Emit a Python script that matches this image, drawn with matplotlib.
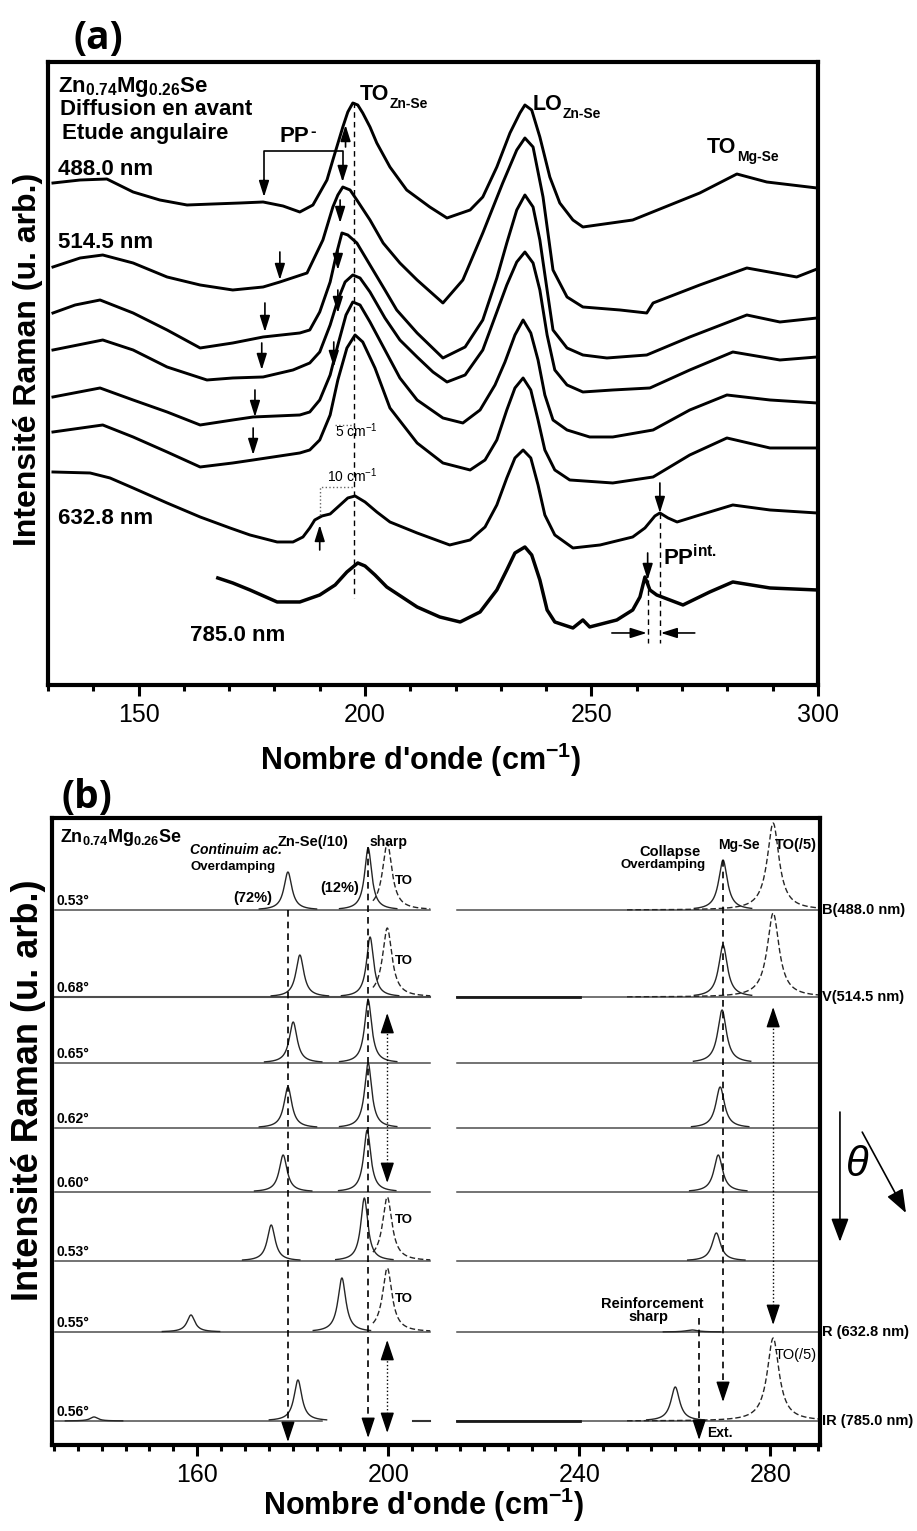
import matplotlib
matplotlib.use("Agg")
import matplotlib.pyplot as plt
from matplotlib.ticker import MultipleLocator
import numpy as np

plt.rcParams['font.family'] = ['Liberation Sans', 'DejaVu Sans']
plt.rcParams['mathtext.default'] = 'regular'

# ---------------- (a) spectres mesurés : nombre d'onde (cm-1) / intensité (u. arb.)
wn_488 = [131.1, 137.1, 143.0, 148.8, 154.7, 160.7, 166.4, 172.4, 177.5, 181.9, 185.6, 188.5, 191.6, 192.9, 195.1, 196.2,
          197.3, 198.4, 199.5, 201.1, 202.6, 205.5, 209.2, 214.3, 218.1, 223.2, 226.0, 229.1, 232.0, 234.2, 235.3, 236.8,
          238.6, 240.8, 243.0, 245.9, 248.1, 259.1, 273.9, 282.1, 288.7, 299.8]
int_488 = [502, 505, 506, 493, 485, 480, 481, 482, 483, 479, 473, 480, 505, 525, 558, 573,
           582, 580, 572, 558, 542, 518, 495, 478, 467, 475, 488, 518, 552, 572, 580, 575,
           548, 508, 482, 465, 458, 465, 492, 511, 503, 497]
wn_514 = [131.1, 137.1, 142.1, 148.8, 156.3, 163.6, 170.8, 177.5, 181.2, 187.2, 190.7, 192.9, 194.0, 195.1, 196.7, 198.2,
          201.1, 204.0, 207.7, 211.5, 217.2, 221.6, 226.0, 230.4, 233.5, 235.3, 237.1, 239.3, 241.5, 244.6, 248.1, 256.3,
          262.2, 263.6, 273.9, 284.3, 295.3, 299.8]
int_514 = [418, 427, 430, 422, 408, 400, 395, 398, 403, 412, 445, 478, 490, 498, 495, 485,
           465, 442, 422, 405, 382, 405, 452, 502, 535, 547, 538, 488, 415, 388, 378, 375,
           372, 382, 400, 417, 408, 416]
wn_a3 = [131.1, 136.0, 141.5, 148.8, 156.3, 163.6, 170.8, 177.5, 185.6, 187.8, 190.0, 192.3, 193.8, 194.9, 196.2, 198.2,
         201.1, 204.4, 207.0, 211.5, 217.2, 222.1, 226.0, 229.1, 231.3, 233.5, 235.3, 237.1, 238.6, 240.2, 241.5, 244.6,
         248.1, 253.4, 262.2, 271.7, 284.3, 291.6, 299.8]
int_a3 = [372, 380, 385, 372, 355, 337, 342, 348, 352, 355, 373, 403, 433, 452, 450, 442,
          420, 395, 375, 352, 327, 338, 365, 407, 442, 475, 490, 478, 445, 395, 355, 337,
          330, 327, 330, 348, 370, 363, 367]
wn_a4 = [131.1, 142.1, 148.8, 156.3, 165.1, 170.8, 177.5, 184.1, 187.8, 190.0, 192.3, 194.0, 195.6, 197.3, 198.9, 201.1,
         204.4, 207.7, 211.5, 215.0, 218.1, 222.1, 226.0, 229.1, 231.3, 233.5, 235.3, 237.1, 238.6, 240.2, 241.9, 244.6,
         248.1, 254.7, 262.9, 271.7, 281.2, 291.6, 299.8]
int_a4 = [335, 345, 335, 318, 305, 307, 308, 315, 322, 333, 360, 385, 403, 410, 407, 393,
          367, 345, 328, 313, 303, 310, 335, 373, 400, 423, 433, 422, 395, 350, 315, 300,
          293, 295, 297, 315, 333, 325, 328]
wn_a5 = [131.1, 141.5, 148.8, 156.3, 163.6, 170.8, 175.3, 185.6, 187.8, 190.0, 192.3, 194.0, 195.8, 197.3, 198.9, 201.1,
         204.4, 207.7, 211.5, 217.2, 221.6, 225.4, 228.7, 230.9, 233.1, 234.9, 236.6, 238.2, 239.7, 241.5, 244.6, 249.6,
         254.7, 263.6, 271.7, 279.9, 289.4, 299.8]
int_a5 = [288, 297, 285, 273, 260, 265, 268, 270, 273, 285, 310, 340, 370, 383, 380, 363,
          335, 307, 285, 267, 262, 275, 300, 323, 350, 365, 352, 325, 290, 265, 255, 248,
          248, 255, 275, 290, 285, 282]
wn_a6 = [131.1, 142.1, 148.8, 156.3, 163.6, 170.8, 175.3, 185.6, 187.8, 190.0, 192.3, 194.0, 196.0, 197.8, 199.5, 202.2,
         205.5, 211.5, 217.2, 223.2, 226.5, 229.1, 231.3, 233.1, 234.9, 236.6, 238.2, 239.7, 241.9, 245.2, 254.7, 263.6,
         271.7, 279.9, 289.4, 299.8]
int_a6 = [253, 260, 248, 233, 218, 222, 225, 232, 235, 245, 270, 305, 337, 350, 343, 317,
          277, 242, 222, 215, 225, 245, 275, 297, 307, 295, 265, 235, 215, 205, 202, 208,
          230, 247, 237, 237]
wn_633 = [131.1, 139.3, 143.7, 148.8, 156.3, 163.6, 170.2, 174.6, 180.6, 184.1, 186.3, 187.8, 188.9, 190.5, 192.3, 194.5,
          196.2, 197.8, 200.0, 202.6, 205.5, 211.5, 218.7, 223.2, 226.5, 229.1, 231.3, 233.1, 234.9, 236.6, 238.2, 239.7,
          241.9, 245.9, 251.9, 259.1, 261.8, 264.0, 265.1, 266.9, 268.9, 273.9, 281.2, 289.4, 299.8]
int_633 = [213, 212, 207, 197, 182, 168, 157, 150, 143, 143, 148, 157, 165, 169, 171, 180,
           187, 189, 183, 173, 163, 152, 140, 145, 158, 180, 207, 227, 235, 227, 200, 170,
           150, 137, 140, 148, 157, 169, 172, 167, 163, 170, 180, 175, 172]
wn_785 = [167.5, 170.8, 174.6, 180.6, 185.6, 190.0, 193.4, 196.0, 198.4, 200.0, 202.2, 204.8, 211.5, 216.5, 221.0, 225.4,
          229.1, 231.3, 233.1, 235.3, 236.8, 238.6, 240.2, 241.9, 245.9, 248.1, 249.6, 255.6, 259.1, 260.7, 261.8, 262.9,
          264.4, 267.3, 270.2, 276.1, 281.2, 289.4, 299.8]
int_785 = [107, 102, 95, 83, 83, 90, 100, 113, 122, 119, 110, 98, 78, 68, 63, 73,
           95, 115, 132, 138, 130, 105, 75, 63, 57, 65, 58, 65, 75, 88, 108, 95,
           90, 85, 80, 93, 103, 97, 95]

# ---------------- (b) spectres calculés : ligne de base et raies (centre cm-1, hauteur, demi-largeur)
b_base = [535, 448, 382, 317, 253, 184, 113, 24]
b_angle = ['0.53°', '0.68°', '0.65°', '0.62°', '0.60°', '0.53°', '0.55°', '0.56°']
b_laser = ['B(488.0 nm)', 'V(514.5 nm)', '', '', '', '', 'R (632.8 nm)', 'IR (785.0 nm)']
b_solid = [
    [(179.0, 38, 1.0), (195.8, 62, 0.9), (270.1, 50, 1.1)],
    [(181.5, 42, 1.0), (196.2, 60, 0.9), (270.1, 52, 1.1)],
    [(180.1, 41, 1.0), (195.8, 63, 0.9), (269.9, 53, 1.1)],
    [(179.0, 41, 1.0), (195.8, 65, 0.9), (269.5, 41, 1.1)],
    [(178.0, 37, 1.0), (195.6, 62, 0.9), (269.1, 37, 1.1)],
    [(175.5, 36, 1.0), (195.0, 63, 0.9), (268.7, 28, 1.1)],
    [(158.7, 17, 1.0), (190.3, 54, 1.0), (263.6, 2, 1.5)],
    [(138.4, 4, 1.0), (181.1, 41, 1.0), (260.1, 34, 1.1)],
]
b_dashed = [
    [(199.8, 67, 1.2), (280.6, 87, 1.5)],
    [(199.8, 69, 1.2), (280.6, 84, 1.5)],
    [], [], [],
    [(199.8, 64, 1.2)],
    [(199.8, 64, 1.2)],
    [(280.6, 83, 1.5)],
]
b_left = (130.2, 208.8)
b_right = (214.4, 290.3)

fig = plt.figure(figsize=(9.17, 15.31), dpi=100)
ax_a = fig.add_axes([0.0523, 0.5526, 0.8397, 0.4069])
ax_b = fig.add_axes([0.0567, 0.0562, 0.8375, 0.4095])

for ax in (ax_a, ax_b):
    for s in ax.spines.values():
        s.set_linewidth(3)
    ax.set_yticks([])
    ax.tick_params(axis='x', which='major', length=8, width=2.2, direction='out', labelsize=18, pad=5)
    ax.tick_params(axis='x', which='minor', length=4, width=2.2, direction='out')


def arrow(ax, x, y0, y1, lw=1.2, ms=14, hw=0.22, hl=0.7):
    ax.annotate('', xy=(x, y1), xytext=(x, y0),
                arrowprops=dict(arrowstyle='-|>,head_length=%s,head_width=%s' % (hl, hw), lw=lw, color='k',
                                shrinkA=0, shrinkB=0, mutation_scale=ms),
                annotation_clip=False)


def sub_text(ax, x, y, main, sub, size, subsize, tr, dy=-4):
    t = ax.text(x, y, main, transform=tr, fontsize=size, fontweight='bold', va='baseline')
    ax.annotate(sub, xy=(1, 0), xycoords=t, xytext=(0.5, dy), textcoords='offset points',
                fontsize=subsize, fontweight='bold', va='bottom', ha='left')


# ---------------- panel (a)
for w, i in [(wn_488, int_488), (wn_514, int_514), (wn_a3, int_a3), (wn_a4, int_a4),
             (wn_a5, int_a5), (wn_a6, int_a6), (wn_633, int_633)]:
    ax_a.plot(w, i, color='k', lw=2.1, solid_joinstyle='round')
ax_a.plot(wn_785, int_785, color='k', lw=2.5, solid_joinstyle='round')
ax_a.set_xlim(130, 300)
ax_a.set_ylim(0, 623)
ax_a.set_xticks([150, 200, 250, 300])
ax_a.xaxis.set_minor_locator(MultipleLocator(10))

ta = ax_a.transAxes
ax_a.text(0.013, 0.952, 'Zn$_{0.74}$Mg$_{0.26}$Se', transform=ta, fontsize=16, fontweight='bold', va='baseline')
ax_a.text(0.016, 0.915, 'Diffusion en avant', transform=ta, fontsize=16, fontweight='bold', va='baseline')
ax_a.text(0.018, 0.876, 'Etude angulaire', transform=ta, fontsize=16, fontweight='bold', va='baseline')
ax_a.text(0.013, 0.819, '488.0 nm', transform=ta, fontsize=16, fontweight='bold', va='baseline')
ax_a.text(0.013, 0.701, '514.5 nm', transform=ta, fontsize=16, fontweight='bold', va='baseline')
ax_a.text(0.013, 0.258, '632.8 nm', transform=ta, fontsize=16, fontweight='bold', va='baseline')
ax_a.text(0.184, 0.071, '785.0 nm', transform=ta, fontsize=16, fontweight='bold', va='baseline')
sub_text(ax_a, 0.405, 0.939, 'TO', 'Zn-Se', 15.5, 10, ta)
sub_text(ax_a, 0.629, 0.923, 'LO', 'Zn-Se', 15.5, 10, ta)
sub_text(ax_a, 0.856, 0.854, 'TO', 'Mg-Se', 15.5, 10, ta)
t_pp = ax_a.text(0.301, 0.872, 'PP', transform=ta, fontsize=16, fontweight='bold', va='baseline')
ax_a.annotate('-', xy=(1, 1), xycoords=t_pp, xytext=(0.5, 1), textcoords='offset points',
              fontsize=12, fontweight='bold', va='top', ha='left')
ax_a.text(0.799, 0.193, 'PP$^{int.}$', transform=ta, fontsize=16, fontweight='bold', va='baseline')
ax_a.text(0.373, 0.398, '5 cm$^{-1}$', transform=ta, fontsize=10, va='baseline')
ax_a.text(0.362, 0.326, '10 cm$^{-1}$', transform=ta, fontsize=10, va='baseline')

# guides (a)
ax_a.plot([197.5, 197.5], [583, 87], color='k', lw=1, ls=(0, (4, 3)))
ax_a.plot([177.7, 177.7, 195.05, 195.05], [500, 534, 534, 510], color='k', lw=1.2)
arrow(ax_a, 177.7, 505, 488)
arrow(ax_a, 195.05, 515, 503)
arrow(ax_a, 195.7, 538, 560)
for x, y0, y1 in [(194.5, 485, 462), (194.0, 435, 415), (194.0, 395, 372), (193.1, 343, 318),
                  (181.2, 433, 405), (177.9, 382, 353), (177.2, 342, 315), (175.7, 295, 268), (175.3, 257, 230)]:
    arrow(ax_a, x, y0, y1)
ax_a.plot([193.4, 197.5], [260, 260], color='0.4', lw=1, ls=':')
ax_a.plot([190.0, 190.0, 197.5], [170, 198, 198], color='0.4', lw=1, ls=':')
arrow(ax_a, 190.0, 135, 160)
ax_a.plot([265.1, 265.1], [172, 42], color='k', lw=1, ls=(0, (4, 3)))
ax_a.plot([262.4, 262.4], [105, 42], color='k', lw=1, ls=(0, (4, 3)))
arrow(ax_a, 265.1, 202, 172)
arrow(ax_a, 262.4, 132, 105)
for x0, x1 in [(254.5, 262.2), (272.8, 265.3)]:
    ax_a.annotate('', xy=(x1, 52), xytext=(x0, 52),
                  arrowprops=dict(arrowstyle='-|>,head_length=0.7,head_width=0.22', lw=1.2, color='k',
                                  shrinkA=0, shrinkB=0, mutation_scale=14))

# ---------------- panel (b)
ax_b.set_xlim(129.6, 290.4)
ax_b.set_ylim(0, 627)
ax_b.set_xticks([160, 200, 240, 280])
ax_b.xaxis.set_minor_locator(MultipleLocator(5))

for r, base in enumerate(b_base):
    lw_l = 1.5 if r == 1 else 1.1
    if r == 7:
        ax_b.plot([b_left[0], 186.1], [base, base], color='0.3', lw=1.1)
        ax_b.plot([205.2, b_left[1]], [base, base], color='0.2', lw=1.5)
    else:
        ax_b.plot(b_left, [base, base], color='0.3', lw=lw_l)
    ax_b.plot(b_right, [base, base], color='0.3', lw=1.1)
    if r in (1, 7):
        ax_b.plot([b_right[0], 240.2], [base, base], color='0.1', lw=2)
    for c, h, g in b_solid[r]:
        x = np.linspace(c - 6, c + 6, 300)
        ax_b.plot(x, base + h * g ** 2 / ((x - c) ** 2 + g ** 2), color='0.15', lw=1.0)
    for c, h, g in b_dashed[r]:
        if c < 210:
            x = np.linspace(c - 3, b_left[1], 300)
        else:
            x = np.linspace(250, b_right[1], 300)
        ax_b.plot(x, base + h * g ** 2 / ((x - c) ** 2 + g ** 2), color='0.15', lw=1.0, ls=(0, (4, 2)))
    ax_b.text(130.5, base + 5, b_angle[r], fontsize=10, fontweight='bold', va='baseline')
    if b_laser[r]:
        ax_b.text(1.003, base / 627, b_laser[r], transform=ax_b.transAxes, fontsize=10.5,
                  fontweight='bold', va='center', ha='left')

# guides (b)
dash = (0, (4, 3))
ax_b.plot([179.0, 179.0], [535, 16], color='k', lw=1.2, ls=dash)
arrow(ax_b, 179.0, 17, 3, lw=1, ms=14, hw=0.3, hl=0.9)
ax_b.plot([195.8, 195.8], [598, 20], color='k', lw=1.2, ls=dash)
arrow(ax_b, 195.8, 21, 7, lw=1, ms=14, hw=0.3, hl=0.9)
ax_b.plot([270.1, 270.1], [585, 56], color='k', lw=1.2, ls=dash)
arrow(ax_b, 270.1, 57, 43, lw=1, ms=14, hw=0.3, hl=0.9)
ax_b.plot([265.1, 265.1], [127, 18], color='k', lw=1.2, ls=dash)
arrow(ax_b, 265.1, 19, 5, lw=1, ms=14, hw=0.3, hl=0.9)
for x, lo, hi in [(199.8, 262, 432), (199.8, 12, 105), (280.6, 120, 438)]:
    ax_b.plot([x, x], [lo + 12, hi - 12], color='k', lw=1, ls=':')
    arrow(ax_b, x, hi - 14, hi, lw=1, ms=14, hw=0.3, hl=0.9)
    arrow(ax_b, x, lo + 14, lo, lw=1, ms=14, hw=0.3, hl=0.9)

tb = ax_b.transAxes
ax_b.text(0.010, 0.962, 'Zn$_{0.74}$Mg$_{0.26}$Se', transform=tb, fontsize=13, fontweight='bold', va='baseline')
ax_b.text(0.180, 0.943, 'Continuim ac.', transform=tb, fontsize=10, fontweight='bold', style='italic', va='baseline')
ax_b.text(0.180, 0.917, 'Overdamping', transform=tb, fontsize=9.5, fontweight='bold', va='baseline')
ax_b.text(0.236, 0.866, '(72%)', transform=tb, fontsize=10.5, fontweight='bold', va='baseline')
ax_b.text(0.349, 0.882, '(12%)', transform=tb, fontsize=10.5, fontweight='bold', va='baseline')
ax_b.text(0.294, 0.955, 'Zn-Se(/10)', transform=tb, fontsize=10.5, fontweight='bold', va='baseline')
ax_b.text(0.414, 0.955, 'sharp', transform=tb, fontsize=10, fontweight='bold', va='baseline')
ax_b.text(0.447, 0.895, 'TO', transform=tb, fontsize=9.5, fontweight='bold', va='baseline')
ax_b.text(0.447, 0.767, 'TO', transform=tb, fontsize=9.5, fontweight='bold', va='baseline')
ax_b.text(201.4, 222, 'TO', fontsize=9.5, fontweight='bold', va='baseline')
ax_b.text(201.4, 143, 'TO', fontsize=9.5, fontweight='bold', va='baseline')
ax_b.text(0.805, 0.939, 'Collapse', transform=tb, fontsize=10.5, fontweight='bold', va='baseline', ha='center')
ax_b.text(0.796, 0.920, 'Overdamping', transform=tb, fontsize=9.5, fontweight='bold', va='baseline', ha='center')
ax_b.text(0.867, 0.951, 'Mg-Se', transform=tb, fontsize=10, fontweight='bold', va='baseline')
ax_b.text(0.941, 0.951, 'TO(/5)', transform=tb, fontsize=10.5, fontweight='bold', va='baseline')
ax_b.text(0.781, 0.218, 'Reinforcement', transform=tb, fontsize=10.5, fontweight='bold', va='baseline', ha='center')
ax_b.text(0.776, 0.198, 'sharp', transform=tb, fontsize=10.5, fontweight='bold', va='baseline', ha='center')
ax_b.text(0.941, 0.137, 'TO(/5)', transform=tb, fontsize=10.5, va='baseline')
ax_b.text(0.853, 0.013, 'Ext.', transform=tb, fontsize=10, fontweight='bold', va='baseline')
ax_b.text(1.048, 0.447, 'θ', transform=tb, fontsize=30, style='italic', va='center', ha='center')
ax_b.annotate('', xy=(1.026, 0.324), xytext=(1.026, 0.531), xycoords=tb, textcoords=tb,
              arrowprops=dict(arrowstyle='-|>,head_length=0.8,head_width=0.3', lw=1.2, color='k',
                              shrinkA=0, shrinkB=0, mutation_scale=18), annotation_clip=False)
ax_b.annotate('', xy=(1.112, 0.370), xytext=(1.055, 0.499), xycoords=tb, textcoords=tb,
              arrowprops=dict(arrowstyle='-|>,head_length=0.8,head_width=0.3', lw=1.2, color='k',
                              shrinkA=0, shrinkB=0, mutation_scale=18), annotation_clip=False)

# labels
fig.text(0.459, 0.5036, "Nombre d'onde (cm$^{-1}$)", ha='center', va='center', fontsize=22, fontweight='bold')
fig.text(0.462, 0.017, "Nombre d'onde (cm$^{-1}$)", ha='center', va='center', fontsize=22, fontweight='bold')
fig.text(0.031, 0.765, 'Intensité Raman (u. arb.)', rotation=90, ha='center', va='center', fontsize=23, fontweight='bold')
fig.text(0.031, 0.288, 'Intensité Raman (u. arb.)', rotation=90, ha='center', va='center', fontsize=26, fontweight='bold')
fig.text(0.080, 0.975, '(a)', fontsize=28, fontweight='bold', family='Open Sans', va='center')
fig.text(0.067, 0.479, '(b)', fontsize=28, fontweight='bold', family='Open Sans', va='center')

fig.savefig('out.png', dpi=100)
